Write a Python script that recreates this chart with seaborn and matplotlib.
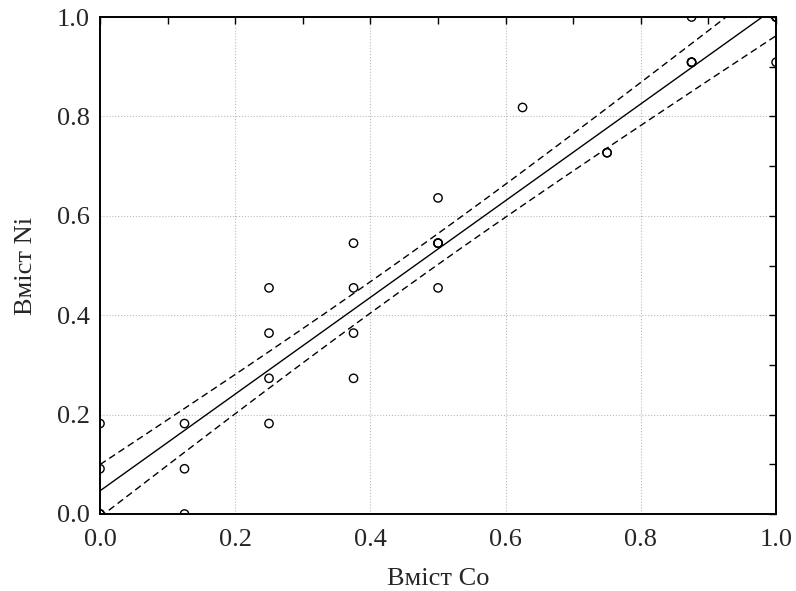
import numpy as np
import pandas as pd
import matplotlib
matplotlib.use("Agg")
import matplotlib.pyplot as plt
import seaborn as sns
from matplotlib.ticker import MultipleLocator, FormatStrFormatter

# Data (overlapping samples appear as bolder circles)
co = [0.0, 0.0, 0.0, 0.0, 0.0,
      0.125, 0.125, 0.125,
      0.25, 0.25, 0.25, 0.25,
      0.375, 0.375, 0.375, 0.375,
      0.5, 0.5, 0.5, 0.5, 0.5,
      0.625,
      0.75, 0.75,
      0.875, 0.875, 0.875, 0.875,
      1.0, 1.0, 1.0, 1.0]
ni = [0.182, 0.091, 0.0, 0.0, 0.0,
      0.182, 0.091, 0.0,
      0.455, 0.364, 0.273, 0.182,
      0.545, 0.455, 0.364, 0.273,
      0.636, 0.545, 0.545, 0.545, 0.455,
      0.818,
      0.727, 0.727,
      1.0, 0.909, 0.909, 0.909,
      1.0, 1.0, 1.0, 0.909]
x_label = "Вміст Co"
y_label = "Вміст Ni"

df = pd.DataFrame({"co": co, "ni": ni})

# Linear fit and 95% confidence band for the regression line
x = np.asarray(co)
y = np.asarray(ni)
n = len(x)
b1, b0 = np.polyfit(x, y, 1)
resid = y - (b0 + b1 * x)
s = np.sqrt(np.sum(resid ** 2) / (n - 2))
t = 2.042  # t(0.975, 30)
xg = np.linspace(0, 1, 200)
yg = b0 + b1 * xg
se = s * np.sqrt(1.0 / n + (xg - x.mean()) ** 2 / np.sum((x - x.mean()) ** 2))
fit = pd.DataFrame({"x": xg, "fit": yg, "lo": yg - t * se, "hi": yg + t * se})

sns.set_style("white")
plt.rcParams["font.family"] = ["Liberation Serif", "DejaVu Serif"]

fig = plt.figure(figsize=(7.96, 5.91), dpi=100)
ax = fig.add_axes([0.1256, 0.1303, 0.8494, 0.8409])

dash = (0, (5, 3))
sns.lineplot(data=fit, x="x", y="fit", ax=ax, color="black", lw=1.0)
sns.lineplot(data=fit, x="x", y="lo", ax=ax, color="black", lw=1.0, linestyle=dash)
sns.lineplot(data=fit, x="x", y="hi", ax=ax, color="black", lw=1.0, linestyle=dash)
sns.scatterplot(data=df, x="co", y="ni", ax=ax, marker="o", s=36,
                facecolor="none", edgecolor="black", linewidth=1.0, zorder=5)

ax.set_xlim(0, 1)
ax.set_ylim(0, 1)
ax.xaxis.set_major_locator(MultipleLocator(0.2))
ax.yaxis.set_major_locator(MultipleLocator(0.2))
ax.xaxis.set_minor_locator(MultipleLocator(0.1))
ax.yaxis.set_minor_locator(MultipleLocator(0.1))
ax.xaxis.set_major_formatter(FormatStrFormatter("%.1f"))
ax.yaxis.set_major_formatter(FormatStrFormatter("%.1f"))
ax.tick_params(which="both", direction="in", top=True, right=True, color="black",
               labelsize=19, width=1.0, length=5)
ax.tick_params(axis="x", which="major", pad=11)
ax.tick_params(axis="y", which="major", pad=7.5)
ax.grid(True, which="major", color="#bbbbbb", linestyle=":", linewidth=0.8)
for sp in ax.spines.values():
    sp.set_visible(True)
    sp.set_color("black")
    sp.set_linewidth(1.4)

ax.set_xlabel(x_label, fontsize=19, labelpad=12)
ax.set_ylabel(y_label, fontsize=19, labelpad=14)

fig.savefig("out.png", dpi=100)
